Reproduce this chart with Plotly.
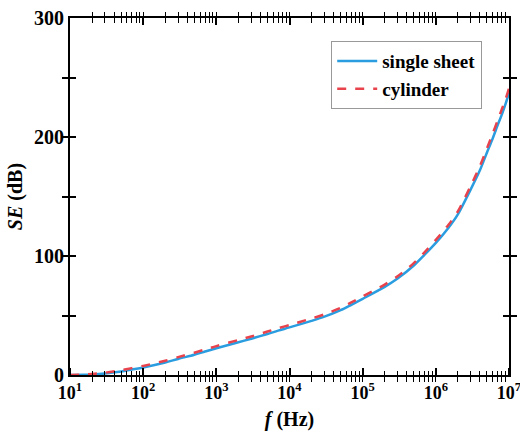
import plotly.graph_objects as go

# Frequency samples (Hz) and shielding effectiveness (dB)
freq = [10, 15, 20, 30, 50, 70, 100, 200, 300, 500, 700,
        1e3, 2e3, 3e3, 5e3, 7e3, 1e4, 2e4, 3e4, 5e4, 7e4,
        1e5, 2e5, 3e5, 5e5, 7e5, 1e6, 1.5e6, 2e6, 3e6, 4e6, 5e6, 6e6, 7e6, 8e6, 9e6, 1e7]
se_sheet = [0.0, 0.2, 0.5, 1.3, 3.0, 4.6, 6.3, 10.5, 13.5, 17.0, 19.7,
            22.5, 27.5, 30.5, 34.5, 37.3, 40.0, 45.5, 49.0, 54.5, 59.0,
            64.0, 74.0, 81.0, 92.0, 101.0, 111.0, 124.0, 135.0, 156.0, 172.0, 187.0, 199.0, 210.0, 219.0, 228.0, 237.0]
se_cyl = [0.0, 0.3, 0.8, 1.9, 4.0, 5.8, 7.6, 12.0, 15.0, 18.7, 21.4,
          24.3, 29.4, 32.4, 36.5, 39.3, 42.0, 47.5, 51.0, 56.5, 61.0,
          66.0, 76.0, 83.0, 94.0, 103.0, 113.5, 126.5, 137.5, 159.0, 175.5, 190.5, 203.0, 214.0, 223.5, 232.0, 241.0]

# Axis ticks: decades labelled, intermediate values as unlabelled minor ticks
x_major = [1e1, 1e2, 1e3, 1e4, 1e5, 1e6, 1e7]
x_major_text = ["10<sup>1</sup>", "10<sup>2</sup>", "10<sup>3</sup>", "10<sup>4</sup>",
                "10<sup>5</sup>", "10<sup>6</sup>", "10<sup>7</sup>"]
x_minor = [m * 10 ** e for e in range(1, 7) for m in range(2, 10)]
y_major = [0, 100, 200, 300]
y_minor = [50, 150, 250]

font_family = "Liberation Serif"

x_all = x_major + x_minor
x_all_text = x_major_text + [""] * len(x_minor)
y_all = y_major + y_minor
y_all_text = [str(v) for v in y_major] + [""] * len(y_minor)

fig = go.Figure()
fig.add_trace(go.Scatter(x=freq, y=se_sheet, mode="lines", name="single sheet",
                         line=dict(color="#2a9de0", width=2.5, shape="spline", smoothing=0.8)))
fig.add_trace(go.Scatter(x=freq, y=se_cyl, mode="lines", name="cylinder",
                         line=dict(color="#e8434c", width=2.5, dash="dash", shape="spline", smoothing=0.8)))

axis_common = dict(showline=True, linecolor="black", linewidth=2, mirror="allticks",
                   ticks="inside", tickcolor="black",
                   showgrid=False, zeroline=False, automargin=False)

# unlabelled tick-only axes placed on the opposite sides, mirrored back
tick_only = dict(showticklabels=False, ticks="inside", tickcolor="black",
                 showline=True, linecolor="black", linewidth=2, mirror="allticks",
                 showgrid=False, zeroline=False, automargin=False)

# tick-only axes with top orientation sitting on the bottom edge,
# so their outward ticks point up into the plot
bottom_ticks = dict(showticklabels=False, ticks="outside", tickcolor="black",
                    showline=False, showgrid=False, zeroline=False, automargin=False,
                    anchor="free", position=0, side="top")

fig.update_layout(
    xaxis=dict(type="log", range=[1, 7], tickmode="array", tickvals=x_all, ticktext=x_all_text,
               ticklen=4.5, tickwidth=1.3,
               ticklabeloverflow="allow",
               tickfont=dict(family=font_family, size=18, color="black", weight="bold"),
               title=dict(text="<b><i>f</i> (Hz)</b>", font=dict(family=font_family, size=20, color="black"),
                          standoff=10),
               **axis_common),
    xaxis2=dict(type="log", range=[1, 7], overlaying="x", anchor="y", side="bottom",
                tickmode="array", tickvals=x_major, ticklen=7, tickwidth=1.6, **tick_only),
    xaxis3=dict(type="log", range=[1, 7], overlaying="x", anchor="y", side="top",
                tickmode="array", tickvals=x_all, ticklen=4.5, tickwidth=1.3, **tick_only),
    xaxis4=dict(type="log", range=[1, 7], overlaying="x", anchor="y", side="top",
                tickmode="array", tickvals=x_major, ticklen=7, tickwidth=1.6, **tick_only),
    xaxis5=dict(type="log", range=[1, 7], overlaying="x",
                tickmode="array", tickvals=x_all, ticklen=4.5, tickwidth=1.3, **bottom_ticks),
    xaxis6=dict(type="log", range=[1, 7], overlaying="x",
                tickmode="array", tickvals=x_major, ticklen=7, tickwidth=1.6, **bottom_ticks),
    yaxis=dict(range=[0, 300], tickmode="array", tickvals=y_all, ticktext=y_all_text,
               ticklen=6, tickwidth=1.6,
               tickfont=dict(family=font_family, size=20, color="black", weight="bold"),
               title=dict(text="<b><i>SE</i> (dB)</b>", font=dict(family=font_family, size=20, color="black"),
                          standoff=6),
               **axis_common),
    yaxis2=dict(range=[0, 300], overlaying="y", anchor="x", side="right",
                tickmode="array", tickvals=y_all, ticklen=6, tickwidth=1.6, **tick_only),
)
# invisible traces that attach data to the tick-only axes
for xa, ya in [("x2", "y"), ("x3", "y"), ("x4", "y"), ("x5", "y"), ("x6", "y"), ("x", "y2")]:
    fig.add_trace(go.Scatter(x=[10, 1e7], y=[0, 0], xaxis=xa, yaxis=ya, mode="lines",
                             line=dict(width=0, color="rgba(0,0,0,0)"),
                             showlegend=False, hoverinfo="skip"))

fig.update_layout(
    width=520, height=442,
    margin=dict(l=70, r=11, t=18, b=67),
    plot_bgcolor="white", paper_bgcolor="white",
    font=dict(family=font_family, size=19, color="black"),
    legend=dict(x=0.595, y=0.935, xanchor="left", yanchor="top",
                bgcolor="white", bordercolor="#999999", borderwidth=1,
                font=dict(family=font_family, size=19, color="black", weight="bold"),
                itemwidth=40, tracegroupgap=0),
    showlegend=True,
)

fig.write_html("out.html")
